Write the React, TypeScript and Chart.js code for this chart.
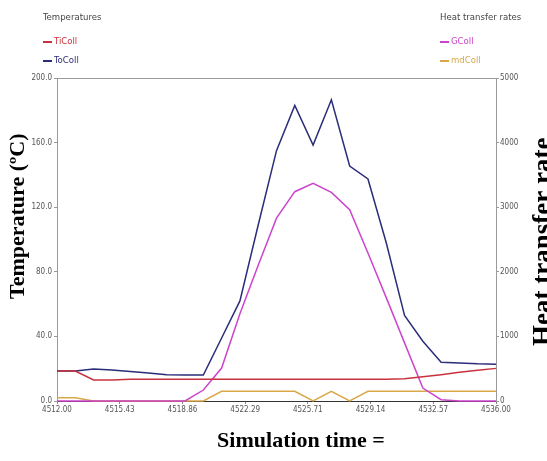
import React, { useEffect, useRef } from "react";
import { Chart, registerables } from "chart.js";
Chart.register(...registerables);

// ---- data ----
const hours = [4512, 4513, 4514, 4515, 4516, 4517, 4518, 4519, 4520, 4521, 4522, 4523, 4524, 4525, 4526, 4527, 4528, 4529, 4530, 4531, 4532, 4533, 4534, 4535, 4536];
const tiColl = [18.6, 18.6, 13, 13, 13.5, 13.5, 13.5, 13.5, 13.5, 13.5, 13.5, 13.5, 13.5, 13.5, 13.5, 13.5, 13.5, 13.5, 13.5, 13.8, 15, 16.3, 17.8, 19, 20.2];
const toColl = [18.6, 18.6, 19.8, 19.2, 18.3, 17.3, 16.3, 16.1, 16.1, 39, 62, 109, 155, 183, 158.5, 186.5, 145.5, 137.5, 98, 53, 37, 24, 23.5, 23, 22.8];
const gColl = [0, 0, 0, 0, 0, 0, 0, 0, 170, 510, 1350, 2100, 2830, 3240, 3370, 3230, 2960, 2290, 1600, 900, 200, 20, 0, 0, 0];
const mdColl = [50, 50, 0, 0, 0, 0, 0, 0, 0, 150, 150, 150, 150, 150, 0, 150, 0, 150, 150, 150, 150, 150, 150, 150, 150];
const xTickValues = [4512, 4515.43, 4518.86, 4522.29, 4525.71, 4529.14, 4532.57, 4536];
const leftTicks = [0, 40, 80, 120, 160, 200];
const rightTicks = [0, 1000, 2000, 3000, 4000, 5000];

const C_TI = "#c8323c";
const C_TO = "#2b2d78";
const C_G = "#cc44cc";
const C_MD = "#d8a84a";
const SMALL = "'Liberation Sans Narrow', 'DejaVu Sans Condensed', 'Liberation Sans', sans-serif";
const SERIF = "'Liberation Serif', 'DejaVu Serif', serif";

const textPlugin = {
  id: "texts",
  afterDraw(chart: any) {
    const ctx = chart.ctx;
    const a = chart.chartArea;
    ctx.save();
    ctx.strokeStyle = "#9a9a9a";
    ctx.lineWidth = 1;
    ctx.beginPath();
    ctx.moveTo(a.left, a.top + 0.5);
    ctx.lineTo(a.right, a.top + 0.5);
    ctx.stroke();

    // legends
    ctx.save();
    ctx.beginPath();
    ctx.rect(0, 0, chart.width, 63);
    ctx.clip();
    ctx.font = `9.5px ${SMALL}`;
    ctx.textBaseline = "middle";
    ctx.textAlign = "left";
    ctx.fillStyle = "#444";
    ctx.fillText("Temperatures", 43, 18);
    ctx.fillText("Heat transfer rates", 440, 18);
    const entries = [
      { x: 43, y: 42, c: C_TI, t: "TiColl" },
      { x: 43, y: 61, c: C_TO, t: "ToColl" },
      { x: 440, y: 42, c: C_G, t: "GColl" },
      { x: 440, y: 61, c: C_MD, t: "mdColl" },
    ];
    for (const e of entries) {
      ctx.strokeStyle = e.c;
      ctx.lineWidth = 2;
      ctx.beginPath();
      ctx.moveTo(e.x, e.y);
      ctx.lineTo(e.x + 9, e.y);
      ctx.stroke();
      ctx.fillStyle = e.c;
      ctx.fillText(e.t, e.x + 11, e.y);
    }
    ctx.restore();

    // axis titles
    ctx.fillStyle = "#000";
    ctx.font = `bold 22px ${SERIF}`;
    ctx.textBaseline = "alphabetic";
    ctx.textAlign = "left";
    ctx.save();
    ctx.translate(24, 299);
    ctx.rotate(-Math.PI / 2);
    ctx.fillText("Temperature (ºC)", 0, 0);
    ctx.restore();

    ctx.save();
    ctx.translate(551, 346);
    ctx.rotate(-Math.PI / 2);
    ctx.font = `bold 27px ${SERIF}`;
    ctx.fillText("Heat transfer rate", 0, 0);
    ctx.restore();

    ctx.textAlign = "center";
    ctx.font = `bold 22px ${SERIF}`;
    ctx.fillText("Simulation time =", 301, 447);
    ctx.restore();
  },
};

export default function App() {
  const ref = useRef<HTMLCanvasElement>(null);
  useEffect(() => {
    document.body.style.margin = "0";
    const ds = (label: string, data: number[], color: string, axis: string) => ({
      label,
      data: hours.map((h, i) => ({ x: h, y: data[i] })),
      borderColor: color,
      backgroundColor: color,
      borderWidth: 1.5,
      pointRadius: 0,
      tension: 0,
      yAxisID: axis,
      clip: 3,
    });
    const chart = new Chart(ref.current!, {
      type: "line",
      data: {
        datasets: [
          ds("TiColl", tiColl, C_TI, "y"),
          ds("ToColl", toColl, C_TO, "y"),
          ds("GColl", gColl, C_G, "y1"),
          ds("mdColl", mdColl, C_MD, "y1"),
        ],
      },
      options: {
        responsive: false,
        animation: false,
        layout: { padding: { left: 0, right: 0, top: 78, bottom: 0 } },
        plugins: { legend: { display: false }, tooltip: { enabled: false } },
        scales: {
          x: {
            type: "linear",
            min: 4512,
            max: 4536,
            afterBuildTicks: (s: any) => {
              s.ticks = xTickValues.map((v) => ({ value: v }));
            },
            afterFit: (s: any) => {
              s.height = 60;
            },
            grid: { display: true, drawOnChartArea: false, drawTicks: true, tickLength: 3, color: "#888" },
            border: { display: true, color: "#333", width: 1 },
            ticks: {
              autoSkip: false,
              maxRotation: 0,
              padding: 1,
              color: "#555",
              font: { family: SMALL, size: 8 },
              callback: (v: any) => Number(v).toFixed(2),
            },
          },
          y: {
            position: "left",
            min: 0,
            max: 200,
            afterBuildTicks: (s: any) => {
              s.ticks = leftTicks.map((v) => ({ value: v }));
            },
            afterFit: (s: any) => {
              s.width = 57;
            },
            grid: { display: true, drawOnChartArea: false, drawTicks: true, tickLength: 3, color: "#999" },
            border: { display: true, color: "#9a9a9a", width: 1 },
            ticks: {
              padding: 2,
              color: "#555",
              font: { family: SMALL, size: 8 },
              callback: (v: any) => Number(v).toFixed(1),
            },
          },
          y1: {
            position: "right",
            min: 0,
            max: 5000,
            afterBuildTicks: (s: any) => {
              s.ticks = rightTicks.map((v) => ({ value: v }));
            },
            afterFit: (s: any) => {
              s.width = 51;
            },
            grid: { display: true, drawOnChartArea: false, drawTicks: true, tickLength: 3, color: "#999" },
            border: { display: true, color: "#9a9a9a", width: 1 },
            ticks: {
              padding: 1,
              color: "#555",
              font: { family: SMALL, size: 8 },
              callback: (v: any) => String(v),
            },
          },
        },
      },
      plugins: [textPlugin],
    } as any);
    return () => chart.destroy();
  }, []);
  return (
    <div style={{ width: 547, height: 461, background: "#fff" }}>
      <canvas ref={ref} width={547} height={461} style={{ display: "block" }} />
    </div>
  );
}
